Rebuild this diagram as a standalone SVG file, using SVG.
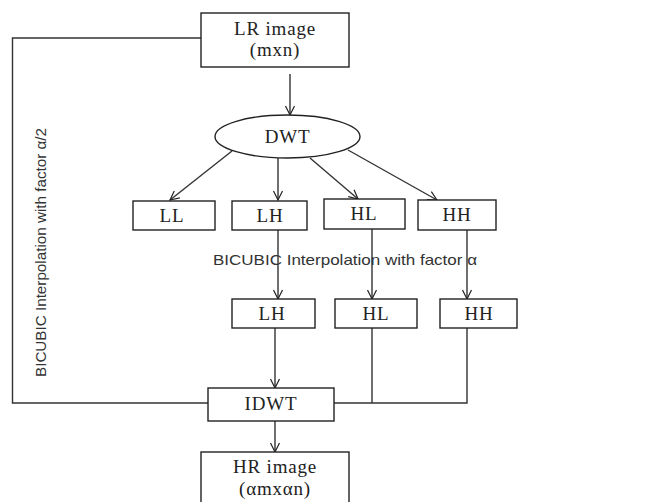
<svg xmlns="http://www.w3.org/2000/svg" width="671" height="502" viewBox="0 0 671 502">
<defs>
<marker id="ah" markerWidth="12" markerHeight="12" refX="10" refY="6" orient="auto" markerUnits="userSpaceOnUse">
<path d="M1,1.5 L10,6 L1,10.5" fill="none" stroke="#222" stroke-width="1.2"/>
</marker>
<style>
.box{fill:#fff;stroke:#222;stroke-width:1.4}
.ln{fill:none;stroke:#333;stroke-width:1.4}
.arr{fill:none;stroke:#333;stroke-width:1.4;marker-end:url(#ah)}
.t{font-family:"Liberation Serif",serif;font-size:19px;fill:#222;text-anchor:middle;letter-spacing:0.8px}
.s{font-family:"Liberation Sans",Arial,sans-serif;fill:#333}
</style>
</defs>
<rect width="671" height="502" fill="#fff"/>
<g id="connectors">
<polyline class="ln" points="201,38 12.5,38 12.5,403 208,403"/>
<line class="arr" x1="290" y1="74" x2="290" y2="115"/>
<line class="arr" x1="232" y1="151" x2="170" y2="200"/>
<line class="arr" x1="278" y1="158" x2="278" y2="200"/>
<line class="arr" x1="310" y1="158" x2="358" y2="199"/>
<line class="arr" x1="348" y1="150" x2="437" y2="200"/>
<line class="arr" x1="278" y1="230" x2="278" y2="299"/>
<line class="arr" x1="372" y1="229" x2="372" y2="299"/>
<line class="arr" x1="467" y1="230" x2="467" y2="299"/>
<line class="arr" x1="275" y1="328" x2="275" y2="388"/>
<polyline class="ln" points="372,328 372,403"/>
<polyline class="ln" points="467,328 467,403 334,403"/>
<line class="arr" x1="275" y1="421" x2="275" y2="452"/>
</g>
<g id="lr">
<rect class="box" x="201" y="13" width="148" height="54"/>
<text class="t" x="275" y="35">LR image</text>
<text class="t" x="275" y="56">(mxn)</text>
</g>
<g id="dwt">
<ellipse class="box" cx="287.5" cy="136.5" rx="72.5" ry="21.5"/>
<text class="t" x="287.5" y="143">DWT</text>
</g>
<g id="ll1">
<rect class="box" x="133" y="201" width="82" height="29"/>
<text class="t" x="172" y="222">LL</text>
</g>
<g id="lh1">
<rect class="box" x="232" y="201" width="75" height="29"/>
<text class="t" x="270" y="222">LH</text>
</g>
<g id="hl1">
<rect class="box" x="324" y="199" width="81" height="30"/>
<text class="t" x="364" y="220">HL</text>
</g>
<g id="hh1">
<rect class="box" x="418" y="200" width="78" height="30"/>
<text class="t" x="457" y="221">HH</text>
</g>
<g id="interp-label">
<text class="s" x="213" y="265" font-size="15" textLength="264" lengthAdjust="spacingAndGlyphs">BICUBIC Interpolation with factor α</text>
</g>
<g id="lh2">
<rect class="box" x="232" y="299" width="83" height="29"/>
<text class="t" x="272" y="320">LH</text>
</g>
<g id="hl2">
<rect class="box" x="335" y="299" width="82" height="29"/>
<text class="t" x="376" y="320">HL</text>
</g>
<g id="hh2">
<rect class="box" x="440" y="299" width="77" height="29"/>
<text class="t" x="479" y="320">HH</text>
</g>
<g id="idwt">
<rect class="box" x="208" y="388" width="126" height="33"/>
<text class="t" x="271" y="410">IDWT</text>
</g>
<g id="hr">
<rect class="box" x="201" y="452" width="148" height="60"/>
<text class="t" x="275" y="473">HR image</text>
<text class="t" x="275" y="495">(αmxαn)</text>
</g>
<g id="side-label">
<text class="s" transform="translate(46,377) rotate(-90)" x="0" y="0" font-size="14" textLength="249" lengthAdjust="spacingAndGlyphs">BICUBIC Interpolation with factor α/2</text>
</g>
</svg>
